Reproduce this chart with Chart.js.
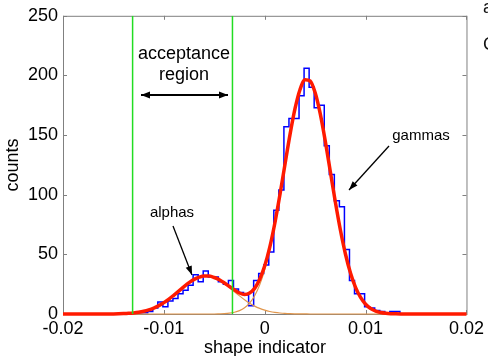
<!DOCTYPE html>
<html>
<head>
<meta charset="utf-8">
<script src="https://cdn.jsdelivr.net/npm/chart.js@4"></script>
<style>
  html, body { margin: 0; padding: 0; background: #fff; }
  #wrap { position: relative; width: 488px; height: 356px; overflow: hidden; }
  .side { position: absolute; left: 483px; font: 18px "Liberation Sans", Arial, sans-serif; color: #111; }
</style>
</head>
<body>
<div id="wrap">
  <canvas id="c" width="488" height="356"></canvas>
  <div class="side" style="top:-3px">a</div>
  <div class="side" style="top:34px">C</div>
</div>
<script>
// histogram of the shape indicator
const binStart = -0.0126;
const binWidth = 0.0005;
const counts = [1, 1, 2, 5, 10, 6, 11, 13, 17, 20, 24, 33, 27, 36, 31, 31, 27, 25, 28, 21,
  18, 16, 7, 28, 34, 41, 52, 87, 104, 157, 164, 164, 183, 206, 190, 173, 175, 141, 117, 95,
  90, 54, 28, 17, 17, 6, 5, 3, 2, 1, 2, 2];

// fitted curves, sampled along x
const fitX = [-0.02, -0.018,
  -0.016, -0.0155, -0.015, -0.0145, -0.014, -0.0135, -0.013, -0.0125, -0.012, -0.0115,
  -0.011, -0.0105, -0.01, -0.0095, -0.009, -0.0085, -0.008, -0.0075, -0.007, -0.0065,
  -0.006, -0.0055, -0.005, -0.0045, -0.004, -0.0035, -0.003, -0.0025, -0.002, -0.0015,
  -0.001, -0.0005, 0, 0.0005, 0.001, 0.0015, 0.002, 0.0025, 0.003, 0.0035,
  0.004, 0.0045, 0.005, 0.0055, 0.006, 0.0065, 0.007, 0.0075, 0.008, 0.0085,
  0.009, 0.0095, 0.01, 0.0105, 0.011, 0.0115, 0.012, 0.0125, 0.013, 0.0135,
  0.014, 0.016, 0.018, 0.02];
const alphaFit = [0, 0,
  0.03, 0.05, 0.1, 0.18, 0.32, 0.55, 0.91, 1.47, 2.29, 3.45,
  5.01, 7.03, 9.54, 12.5, 15.9, 19.4, 23.0, 26.3, 29.0, 30.9,
  31.9, 31.8, 30.6, 28.5, 25.6, 22.3, 18.7, 15.2, 11.9, 9.0,
  6.6, 4.7, 3.2, 2.1, 1.34, 0.83, 0.49, 0.28, 0.16, 0.08,
  0.04, 0, 0, 0, 0, 0, 0, 0, 0, 0,
  0, 0, 0, 0, 0, 0, 0, 0, 0, 0,
  0, 0, 0, 0];
const gammaFit = [0, 0,
  0, 0, 0, 0, 0, 0, 0, 0, 0, 0,
  0, 0, 0, 0, 0, 0, 0, 0, 0, 0,
  0, 0, 0, 0.15, 0.34, 0.72, 1.47, 2.83, 5.21, 9.14,
  15.3, 24.4, 37.2, 54.0, 74.8, 98.9, 124.7, 149.9, 171.9, 188.1,
  196.3, 195.3, 185.4, 167.9, 145.0, 119.5, 93.9, 70.4, 50.3, 34.3,
  22.3, 13.9, 8.2, 4.6, 2.5, 1.28, 0.63, 0.29, 0.13, 0.05,
  0.02, 0, 0, 0];
const totalFit = [0, 0,
  0.03, 0.05, 0.1, 0.18, 0.32, 0.55, 0.91, 1.47, 2.29, 3.45,
  5.01, 7.03, 9.54, 12.5, 15.9, 19.4, 23.0, 26.3, 29.0, 30.9,
  31.9, 31.8, 30.6, 28.7, 26.0, 23.0, 20.2, 17.6, 16.4, 17.6,
  21.5, 29.1, 40.4, 56.1, 76.1, 99.7, 125.2, 150.2, 172.1, 188.2,
  196.3, 195.3, 185.4, 167.9, 145.0, 119.5, 93.9, 70.4, 50.3, 34.3,
  22.3, 13.9, 8.2, 4.6, 2.5, 1.28, 0.63, 0.29, 0.13, 0.05,
  0.02, 0, 0, 0];

// acceptance window edges
const cutLow = -0.0131;
const cutHigh = -0.0032;

const xTicks = [-0.02, -0.01, 0, 0.01, 0.02];
const xTickLabels = ['-0.02', '-0.01', '0', '0.01', '0.02'];
const yTicks = [0, 50, 100, 150, 200, 250];
const yTickLabels = ['0', '50', '100', '150', '200', '250'];

const FONT = '"Liberation Sans", Arial, sans-serif';

const histPts = [{x: binStart, y: 0}];
counts.forEach((c, i) => histPts.push({x: binStart + i * binWidth, y: c}));
histPts.push({x: binStart + counts.length * binWidth, y: 0});

const curve = vals => fitX.map((x, i) => ({x: x, y: vals[i]}));
const vline = x => [{x: x, y: 0}, {x: x, y: 250}];

function arrowHead(ctx, x0, y0, x1, y1, len, half) {
  const ang = Math.atan2(y1 - y0, x1 - x0);
  ctx.beginPath();
  ctx.moveTo(x1, y1);
  ctx.lineTo(x1 - len * Math.cos(ang) + half * Math.sin(ang), y1 - len * Math.sin(ang) - half * Math.cos(ang));
  ctx.lineTo(x1 - len * Math.cos(ang) - half * Math.sin(ang), y1 - len * Math.sin(ang) + half * Math.cos(ang));
  ctx.closePath();
  ctx.fill();
}

function arrow(ctx, x0, y0, x1, y1, w, len, half, both) {
  ctx.lineWidth = w;
  ctx.beginPath();
  ctx.moveTo(x0, y0);
  ctx.lineTo(x1, y1);
  ctx.stroke();
  arrowHead(ctx, x0, y0, x1, y1, len, half);
  if (both) arrowHead(ctx, x1, y1, x0, y0, len, half);
}

// box with inward ticks on all four sides
const frame = {
  id: 'frame',
  beforeDatasetsDraw(chart) {
    const {ctx, chartArea: a, scales} = chart;
    ctx.save();
    ctx.strokeStyle = '#808080';
    ctx.lineWidth = 1;
    ctx.strokeRect(a.left + 0.5, a.top + 0.5, a.right - a.left, a.bottom - a.top);
    ctx.beginPath();
    xTicks.forEach(v => {
      const px = Math.round(scales.x.getPixelForValue(v)) + 0.5;
      ctx.moveTo(px, a.bottom); ctx.lineTo(px, a.bottom - 4);
      ctx.moveTo(px, a.top); ctx.lineTo(px, a.top + 4);
    });
    yTicks.forEach(v => {
      const py = Math.round(scales.y.getPixelForValue(v)) + 0.5;
      ctx.moveTo(a.left, py); ctx.lineTo(a.left + 4, py);
      ctx.moveTo(a.right, py); ctx.lineTo(a.right - 4, py);
    });
    ctx.stroke();
    ctx.restore();
  },
  afterDraw(chart) {
    const ctx = chart.ctx;
    ctx.save();
    ctx.fillStyle = '#000';
    ctx.strokeStyle = '#000';

    // axis titles
    ctx.font = '18px ' + FONT;
    ctx.textAlign = 'center';
    ctx.textBaseline = 'alphabetic';
    ctx.fillText('shape indicator', 265, 353);
    ctx.save();
    ctx.translate(18, 165);
    ctx.rotate(-Math.PI / 2);
    ctx.fillText('counts', 0, 0);
    ctx.restore();

    // annotations
    ctx.textBaseline = 'middle';
    ctx.fillText('acceptance', 184, 54);
    ctx.fillText('region', 184, 75);
    arrow(ctx, 141, 95, 228, 95, 2, 9, 3.5, true);

    ctx.font = '15px ' + FONT;
    ctx.fillText('alphas', 172, 213);
    arrow(ctx, 173, 226, 192, 275, 1.3, 9, 3.2, false);

    ctx.fillText('gammas', 421, 136);
    arrow(ctx, 389, 146, 349, 190, 1.3, 9, 3.2, false);
    ctx.restore();
  }
};

new Chart(document.getElementById('c'), {
  type: 'line',
  data: {
    datasets: [
      {data: vline(cutLow), borderColor: '#22dd22', borderWidth: 1.5, order: -1},
      {data: vline(cutHigh), borderColor: '#22dd22', borderWidth: 1.5, order: -1},
      {data: curve(totalFit), borderColor: '#ff1a00', borderWidth: 3.5, tension: 0.4, cubicInterpolationMode: 'monotone', order: 0, clip: 4},
      {data: curve(alphaFit), borderColor: 'rgb(225,150,75)', borderWidth: 1.2, tension: 0.4, cubicInterpolationMode: 'monotone', order: 1, clip: 4},
      {data: curve(gammaFit), borderColor: 'rgb(225,150,75)', borderWidth: 1.2, tension: 0.4, cubicInterpolationMode: 'monotone', order: 1, clip: 4},
      {data: histPts, borderColor: '#0000ff', borderWidth: 1.5, stepped: 'before', order: 2}
    ]
  },
  options: {
    responsive: false,
    devicePixelRatio: 1,
    animation: false,
    layout: {padding: {left: 0, top: 15, right: 19, bottom: 0}},
    elements: {point: {radius: 0}, line: {fill: false}},
    plugins: {legend: {display: false}, tooltip: {enabled: false}},
    scales: {
      x: {
        type: 'linear',
        min: -0.02,
        max: 0.02,
        afterBuildTicks: s => { s.ticks = xTicks.map(v => ({value: v})); },
        afterFit: s => { s.height = 42; },
        grid: {display: false, drawTicks: false, tickLength: 0},
        border: {display: false},
        ticks: {
          color: '#000',
          font: {family: FONT, size: 18},
          padding: 4,
          maxRotation: 0,
          callback: (v, i) => xTickLabels[i]
        }
      },
      y: {
        type: 'linear',
        min: 0,
        max: 250,
        afterBuildTicks: s => { s.ticks = yTicks.map(v => ({value: v})); },
        afterFit: s => { s.width = 63; },
        grid: {display: false, drawTicks: false, tickLength: 0},
        border: {display: false},
        ticks: {
          color: '#000',
          font: {family: FONT, size: 18},
          padding: 5,
          callback: (v, i) => yTickLabels[i]
        }
      }
    }
  },
  plugins: [frame]
});
</script>
</body>
</html>
